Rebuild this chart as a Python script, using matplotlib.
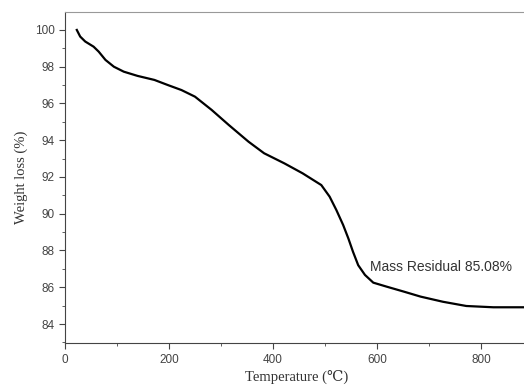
import matplotlib
matplotlib.use("Agg")
import matplotlib.pyplot as plt
from matplotlib.ticker import MultipleLocator

temperature = [22.7, 29.2, 38.9, 55, 64.8, 77.8, 94, 113, 139.5, 172, 198, 224, 250, 282,
               315, 353, 383, 422, 457, 493, 509, 522, 535, 545, 554, 564, 577, 593, 619,
               652, 684, 727, 772, 824, 892]
weight = [100.0, 99.64, 99.37, 99.09, 98.82, 98.37, 98.0, 97.73, 97.5, 97.28, 97.0, 96.73,
          96.37, 95.65, 94.83, 93.92, 93.29, 92.74, 92.2, 91.56, 90.93, 90.2, 89.39, 88.66,
          87.93, 87.2, 86.67, 86.25, 86.03, 85.76, 85.49, 85.21, 84.98, 84.91, 84.91]
annotation = "Mass Residual 85.08%"
xlabel = "Temperature (\u2103)"
ylabel = "Weight loss (%)"

fig = plt.figure(figsize=(5.24, 3.88), dpi=100)
ax = fig.add_axes([65/524, 1 - 343.3/388, 1 - 65/524 + 0.01, (343.3 - 12.3)/388])
ax.plot(temperature, weight, color="black", lw=1.6)
ax.set_xlim(0, 893)
ax.set_ylim(82.95, 100.96)
ax.xaxis.set_major_locator(MultipleLocator(200))
ax.xaxis.set_minor_locator(MultipleLocator(100))
ax.yaxis.set_major_locator(MultipleLocator(2))
ax.yaxis.set_minor_locator(MultipleLocator(1))
ax.tick_params(which="both", direction="out", colors="#444444", labelsize=8.5)
ax.tick_params(which="major", length=4)
ax.tick_params(which="minor", length=2.5)
for lab in ax.get_xticklabels() + ax.get_yticklabels():
    lab.set_family("Liberation Sans")
ax.spines["right"].set_visible(False)
ax.spines["top"].set_color("#999999")
ax.spines["left"].set_color("#444444")
ax.spines["bottom"].set_color("#444444")
ax.set_xlabel(xlabel, family=["Liberation Serif", "DejaVu Serif"], fontsize=10.5, color="#333333", labelpad=3)
ax.set_ylabel(ylabel, family=["Liberation Serif", "DejaVu Serif"], fontsize=10.5, color="#333333", labelpad=5)
ax.text(587.5, 87.12, annotation, family="Liberation Sans", fontsize=10, color="#333333", va="center", ha="left")
fig.savefig("out.png", dpi=100)
